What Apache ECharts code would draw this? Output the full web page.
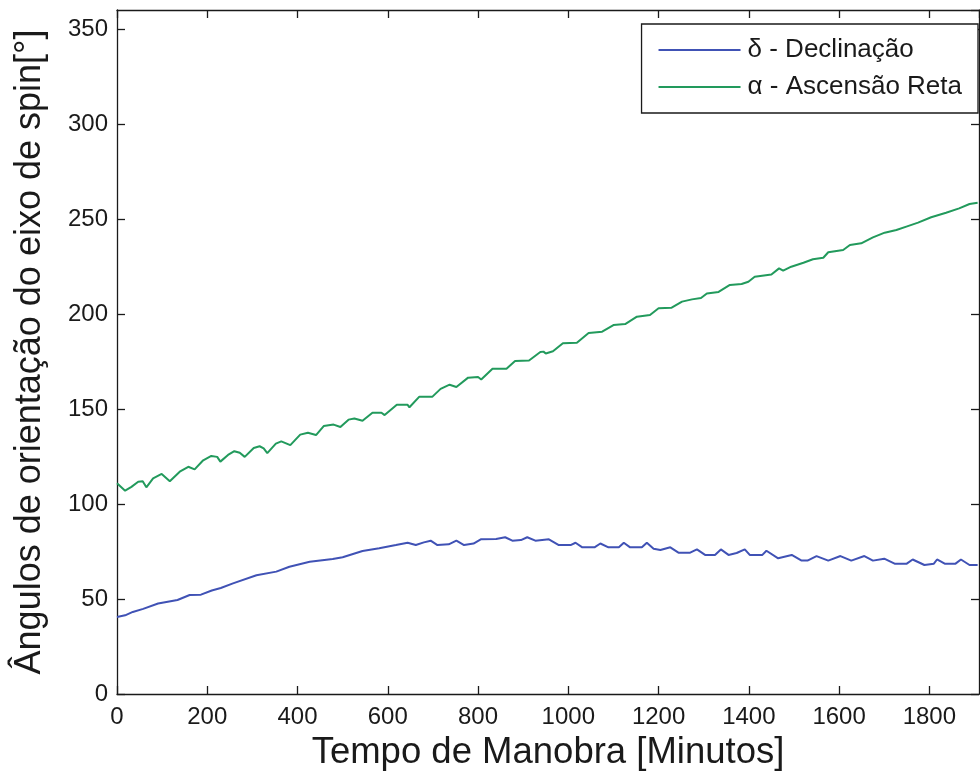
<!DOCTYPE html>
<html>
<head>
<meta charset="utf-8">
<script src="https://cdn.jsdelivr.net/npm/echarts@6/dist/echarts.min.js"></script>
<style>
  html, body { margin: 0; padding: 0; background: #fff; }
  #chart { width: 980px; height: 778px; }
</style>
</head>
<body>
<div id="chart"></div>
<script>
// minutos, leitura da figura
const alphaTime = [0, 18, 32, 47, 57, 65, 80, 99, 117, 139, 158, 172, 191, 209, 222, 229, 246, 260, 272, 283,
  303, 316, 325, 333, 352, 364, 384, 406, 423, 441, 458, 480, 495, 513, 526, 544, 566, 586, 593, 620,
  644, 648, 670, 699, 717, 737, 752, 778, 800, 807, 832, 863, 882, 913, 938, 945, 950, 966, 988, 1019,
  1045, 1075, 1100, 1126, 1152, 1181, 1200, 1229, 1252, 1274, 1294, 1307, 1333, 1358, 1384, 1399, 1413, 1450, 1467, 1476,
  1494, 1521, 1542, 1565, 1576, 1609, 1624, 1649, 1675, 1701, 1727, 1749, 1775, 1804, 1837, 1866, 1889, 1907]
const alphaVal = [110.9, 107, 109, 111.7, 112, 108.8, 113.5, 115.8, 112, 117, 119.6, 118.2, 123, 125.3, 124.8, 122.3, 125.8, 127.8, 127, 124.8,
  129.5, 130.4, 129.3, 126.8, 131.8, 133, 131, 136.5, 137.5, 136.3, 141, 141.8, 140.5, 144.4, 145, 143.8, 148, 148, 146.8, 152.2,
  152.2, 150.9, 156.5, 156.5, 160.6, 162.8, 161.6, 166.5, 166.8, 165.5, 171.2, 171.2, 175.2, 175.5, 180, 180.2, 179.2, 180.4, 184.6, 184.9,
  190, 190.7, 194.2, 194.7, 198.6, 199.5, 203, 203.3, 206.5, 207.7, 208.4, 210.8, 211.6, 215.3, 215.8, 217, 219.6, 220.8, 224, 222.8,
  224.9, 227, 228.8, 229.6, 232.5, 233.7, 236.3, 237.2, 240.3, 242.8, 244.2, 246, 248.1, 250.9, 253.3, 255.6, 257.9, 258.6]

const deltaTime = [0, 18, 35, 58, 91, 134, 161, 186, 210, 230, 257, 309, 353, 382, 427, 478, 500, 544, 581, 618,
  644, 662, 680, 695, 710, 735, 752, 769, 790, 806, 840, 860, 876, 895, 909, 927, 957, 979, 1005, 1016,
  1031, 1058, 1071, 1089, 1112, 1123, 1137, 1163, 1174, 1189, 1204, 1226, 1244, 1270, 1285, 1303, 1325, 1338, 1355, 1373,
  1391, 1402, 1430, 1439, 1465, 1495, 1517, 1530, 1550, 1576, 1603, 1627, 1656, 1675, 1700, 1704, 1723, 1750, 1763, 1789,
  1810, 1817, 1834, 1858, 1870, 1889, 1907]
const deltaVal = [40.5, 41.4, 43.2, 44.8, 47.6, 49.5, 52.1, 52.3, 54.5, 55.8, 58.2, 62.5, 64.4, 67, 69.6, 71, 72, 75.3, 76.7, 78.4,
  79.6, 78.4, 79.8, 80.7, 78.4, 78.8, 80.7, 78.4, 79.2, 81.4, 81.6, 82.5, 80.7, 81, 82.5, 80.7, 81.4, 78.4, 78.4, 79.6,
  77.2, 77.2, 79.2, 77.2, 77.2, 79.6, 77.2, 77.2, 79.6, 76.5, 75.8, 77.2, 74.4, 74.4, 76.1, 73.2, 73.2, 76.1, 73.2, 74.2,
  76.1, 73.2, 73.2, 75.4, 71.4, 73.2, 70.2, 70.2, 72.6, 70.2, 72.6, 70.2, 72.6, 70.2, 71.2, 71.9, 68.6, 68.6, 70.8, 67.9,
  68.6, 70.8, 68.6, 68.6, 70.8, 67.9, 67.9]

const seriesNames = ['δ - Declinação', 'α - Ascensão Reta']

function pairs(t, v) {
  return t.map((x, i) => [x, v[i]])
}

const font = "'Liberation Sans', Arial, sans-serif"
const ink = '#1a1a1a'
const chart = echarts.init(document.getElementById('chart'))

// eixos estilo matlab: caixa fechada, ticks para dentro
function boxAxis(extra) {
  return Object.assign({
    axisLine: { show: true, onZero: false, lineStyle: { color: ink, width: 1.3 } },
    axisTick: { show: true, inside: true, length: 8, lineStyle: { color: ink, width: 1.3 } },
    splitLine: { show: false }
  }, extra)
}
const plainNum = v => String(v)

const option = {
  backgroundColor: '#fff',
  animation: false,
  textStyle: { fontFamily: font },
  grid: { left: 117, right: 1, top: 10, bottom: 84 },
  legend: {
    orient: 'vertical',
    right: 2,
    top: 24,
    padding: [13, 16, 13, 17],
    itemGap: 11,
    itemWidth: 82,
    itemHeight: 2,
    icon: 'rect',
    borderColor: ink,
    borderWidth: 1.3,
    backgroundColor: '#fff',
    textStyle: { fontFamily: font, fontSize: 26, color: ink, padding: [0, 0, 0, 2] },
    data: seriesNames
  },
  xAxis: [
    boxAxis({
      type: 'value', min: 0, max: 1910, interval: 200, position: 'bottom',
      name: 'Tempo de Manobra [Minutos]', nameLocation: 'middle', nameGap: 40,
      nameTextStyle: { fontFamily: font, fontSize: 36.5, color: ink },
      axisLabel: { fontFamily: font, fontSize: 24, color: ink, margin: 11, showMaxLabel: false, formatter: plainNum }
    }),
    boxAxis({
      type: 'value', min: 0, max: 1910, interval: 200, position: 'top',
      axisLabel: { show: false }
    })
  ],
  yAxis: [
    boxAxis({
      type: 'value', min: 0, max: 360, interval: 50, position: 'left',
      name: 'Ângulos de orientação do eixo de spin[°]', nameLocation: 'middle', nameGap: 69, nameRotate: 90,
      nameTextStyle: { fontFamily: font, fontSize: 36, color: ink },
      axisLabel: { fontFamily: font, fontSize: 24, color: ink, margin: 9, showMaxLabel: false, formatter: plainNum }
    }),
    boxAxis({
      type: 'value', min: 0, max: 360, interval: 50, position: 'right',
      axisLabel: { show: false }
    })
  ],
  series: [
    {
      name: seriesNames[0],
      type: 'line',
      symbol: 'none',
      data: pairs(deltaTime, deltaVal),
      lineStyle: { color: '#4052b5', width: 2 },
      itemStyle: { color: '#4052b5' }
    },
    {
      name: seriesNames[1],
      type: 'line',
      symbol: 'none',
      data: pairs(alphaTime, alphaVal),
      lineStyle: { color: '#229a5c', width: 2 },
      itemStyle: { color: '#229a5c' }
    }
  ]
}
chart.setOption(option)
window.addEventListener('resize', () => {
  chart.resize()
})
</script>
</body>
</html>
